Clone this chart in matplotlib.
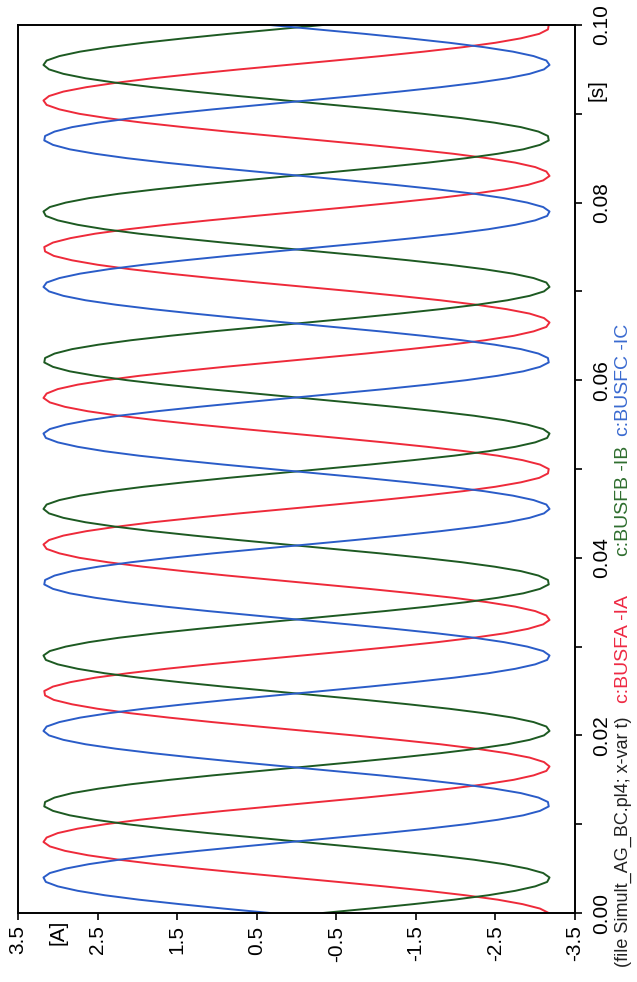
import numpy as np
import matplotlib
matplotlib.use("Agg")
import matplotlib.pyplot as plt

plt.rcParams['font.family'] = ['Liberation Sans', 'DejaVu Sans']

# time samples (s), 0.5 ms step
time_s = np.arange(201) * 0.0005

# currents [A]
ia = [-3.17, -3.06, -2.84, -2.53, -2.12, -1.64, -1.10, -0.52, 0.08, 0.67,
      1.24, 1.77, 2.23, 2.62, 2.91, 3.10, 3.18, 3.14, 3.00, 2.75,
      2.40, 1.97, 1.46, 0.91, 0.32, -0.28, -0.87, -1.42, -1.93, -2.37,
      -2.73, -2.98, -3.14, -3.18, -3.11, -2.93, -2.64, -2.26, -1.81, -1.28,
      -0.72, -0.12, 0.48, 1.06, 1.60, 2.09, 2.50, 2.82, 3.05, 3.16,
      3.17, 3.06, 2.84, 2.53, 2.12, 1.64, 1.10, 0.52, -0.08, -0.67,
      -1.24, -1.77, -2.23, -2.62, -2.91, -3.10, -3.18, -3.14, -3.00, -2.75,
      -2.40, -1.97, -1.46, -0.91, -0.32, 0.28, 0.87, 1.42, 1.93, 2.37,
      2.73, 2.98, 3.14, 3.18, 3.11, 2.93, 2.64, 2.26, 1.81, 1.28,
      0.72, 0.12, -0.48, -1.06, -1.60, -2.09, -2.50, -2.82, -3.05, -3.16,
      -3.17, -3.06, -2.84, -2.53, -2.12, -1.64, -1.10, -0.52, 0.08, 0.67,
      1.24, 1.77, 2.23, 2.62, 2.91, 3.10, 3.18, 3.14, 3.00, 2.75,
      2.40, 1.97, 1.46, 0.91, 0.32, -0.28, -0.87, -1.42, -1.93, -2.37,
      -2.73, -2.98, -3.14, -3.18, -3.11, -2.93, -2.64, -2.26, -1.81, -1.28,
      -0.72, -0.12, 0.48, 1.06, 1.60, 2.09, 2.50, 2.82, 3.05, 3.16,
      3.17, 3.06, 2.84, 2.53, 2.12, 1.64, 1.10, 0.52, -0.08, -0.67,
      -1.24, -1.77, -2.23, -2.62, -2.91, -3.10, -3.18, -3.14, -3.00, -2.75,
      -2.40, -1.97, -1.46, -0.91, -0.32, 0.28, 0.87, 1.42, 1.93, 2.37,
      2.73, 2.98, 3.14, 3.18, 3.11, 2.93, 2.64, 2.26, 1.81, 1.28,
      0.72, 0.12, -0.48, -1.06, -1.60, -2.09, -2.50, -2.82, -3.05, -3.16,
      -3.17]

ic = [0.33, 0.92, 1.47, 1.98, 2.41, 2.75, 3.00, 3.15, 3.18, 3.10,
      2.90, 2.61, 2.23, 1.76, 1.23, 0.66, 0.07, -0.53, -1.11, -1.65,
      -2.13, -2.53, -2.85, -3.06, -3.17, -3.16, -3.04, -2.82, -2.49, -2.08,
      -1.59, -1.05, -0.46, 0.13, 0.73, 1.29, 1.81, 2.27, 2.65, 2.93,
      3.11, 3.18, 3.14, 2.98, 2.72, 2.36, 1.92, 1.41, 0.86, 0.27,
      -0.33, -0.92, -1.47, -1.98, -2.41, -2.75, -3.00, -3.15, -3.18, -3.10,
      -2.90, -2.61, -2.23, -1.76, -1.23, -0.66, -0.07, 0.53, 1.11, 1.65,
      2.13, 2.53, 2.85, 3.06, 3.17, 3.16, 3.04, 2.82, 2.49, 2.08,
      1.59, 1.05, 0.46, -0.13, -0.73, -1.29, -1.81, -2.27, -2.65, -2.93,
      -3.11, -3.18, -3.14, -2.98, -2.72, -2.36, -1.92, -1.41, -0.86, -0.27,
      0.33, 0.92, 1.47, 1.98, 2.41, 2.75, 3.00, 3.15, 3.18, 3.10,
      2.90, 2.61, 2.23, 1.76, 1.23, 0.66, 0.07, -0.53, -1.11, -1.65,
      -2.13, -2.53, -2.85, -3.06, -3.17, -3.16, -3.04, -2.82, -2.49, -2.08,
      -1.59, -1.05, -0.46, 0.13, 0.73, 1.29, 1.81, 2.27, 2.65, 2.93,
      3.11, 3.18, 3.14, 2.98, 2.72, 2.36, 1.92, 1.41, 0.86, 0.27,
      -0.33, -0.92, -1.47, -1.98, -2.41, -2.75, -3.00, -3.15, -3.18, -3.10,
      -2.90, -2.61, -2.23, -1.76, -1.23, -0.66, -0.07, 0.53, 1.11, 1.65,
      2.13, 2.53, 2.85, 3.06, 3.17, 3.16, 3.04, 2.82, 2.49, 2.08,
      1.59, 1.05, 0.46, -0.13, -0.73, -1.29, -1.81, -2.27, -2.65, -2.93,
      -3.11, -3.18, -3.14, -2.98, -2.72, -2.36, -1.92, -1.41, -0.86, -0.27,
      0.33]

ib = [-0.33, -0.92, -1.47, -1.98, -2.41, -2.75, -3.00, -3.15, -3.18, -3.10,
      -2.90, -2.61, -2.23, -1.76, -1.23, -0.66, -0.07, 0.53, 1.11, 1.65,
      2.13, 2.53, 2.85, 3.06, 3.17, 3.16, 3.04, 2.82, 2.49, 2.08,
      1.59, 1.05, 0.46, -0.13, -0.73, -1.29, -1.81, -2.27, -2.65, -2.93,
      -3.11, -3.18, -3.14, -2.98, -2.72, -2.36, -1.92, -1.41, -0.86, -0.27,
      0.33, 0.92, 1.47, 1.98, 2.41, 2.75, 3.00, 3.15, 3.18, 3.10,
      2.90, 2.61, 2.23, 1.76, 1.23, 0.66, 0.07, -0.53, -1.11, -1.65,
      -2.13, -2.53, -2.85, -3.06, -3.17, -3.16, -3.04, -2.82, -2.49, -2.08,
      -1.59, -1.05, -0.46, 0.13, 0.73, 1.29, 1.81, 2.27, 2.65, 2.93,
      3.11, 3.18, 3.14, 2.98, 2.72, 2.36, 1.92, 1.41, 0.86, 0.27,
      -0.33, -0.92, -1.47, -1.98, -2.41, -2.75, -3.00, -3.15, -3.18, -3.10,
      -2.90, -2.61, -2.23, -1.76, -1.23, -0.66, -0.07, 0.53, 1.11, 1.65,
      2.13, 2.53, 2.85, 3.06, 3.17, 3.16, 3.04, 2.82, 2.49, 2.08,
      1.59, 1.05, 0.46, -0.13, -0.73, -1.29, -1.81, -2.27, -2.65, -2.93,
      -3.11, -3.18, -3.14, -2.98, -2.72, -2.36, -1.92, -1.41, -0.86, -0.27,
      0.33, 0.92, 1.47, 1.98, 2.41, 2.75, 3.00, 3.15, 3.18, 3.10,
      2.90, 2.61, 2.23, 1.76, 1.23, 0.66, 0.07, -0.53, -1.11, -1.65,
      -2.13, -2.53, -2.85, -3.06, -3.17, -3.16, -3.04, -2.82, -2.49, -2.08,
      -1.59, -1.05, -0.46, 0.13, 0.73, 1.29, 1.81, 2.27, 2.65, 2.93,
      3.11, 3.18, 3.14, 2.98, 2.72, 2.36, 1.92, 1.41, 0.86, 0.27,
      -0.33]

series_names = ["c:BUSFA -IA", "c:BUSFB -IB", "c:BUSFC -IC"]
line_colors = ["#ee2a3a", "#1d5a22", "#2a5cc8"]
text_colors = ["#ee2a44", "#2f6e2f", "#3a6ad0"]

current_ticks = [3.5, 2.5, 1.5, 0.5, -0.5, -1.5, -2.5, -3.5]
current_labels = ["3.5", "2.5", "1.5", "0.5", "-0.5", "-1.5", "-2.5", "-3.5"]
time_ticks = [0.00, 0.02, 0.04, 0.06, 0.08, 0.10]
time_labels = ["0.00", "0.02", "0.04", "0.06", "0.08", "0.10"]
time_minor = [0.01, 0.03, 0.05, 0.07, 0.09]

W, H = 637, 982
fig = plt.figure(figsize=(W / 100, H / 100), dpi=100)
L, R, T, B = 18, 575, 25, 913
ax = fig.add_axes([L / W, 1 - B / H, (R - L) / W, (B - T) / H])

for vals, col in zip([ia, ib, ic], line_colors):
    ax.plot(vals, time_s, color=col, lw=1.4, solid_joinstyle='round')

ax.set_xlim(3.5, -3.5)
ax.set_ylim(0.0, 0.10)

for s in ax.spines.values():
    s.set_linewidth(1.4)
    s.set_color('black')

ax.set_xticks(current_ticks)
ax.set_xticklabels(current_labels)
ax.set_yticks(time_ticks)
ax.set_yticklabels(time_labels)
ax.set_yticks(time_minor, minor=True)
ax.yaxis.tick_right()
ax.tick_params(axis='x', direction='out', length=5, width=1.2, pad=4,
               labelsize=15, labelrotation=90)
ax.tick_params(axis='y', which='both', direction='out', length=5, width=1.2,
               pad=7, labelsize=15, labelrotation=90, right=True, left=False)
for lab in ax.get_yticklabels():
    lab.set_va('center')
    lab.set_ha('left')

fig.text(58 / W, 1 - 920 / H, "[A]", rotation=90, ha='center', va='top',
         fontsize=15)
fig.text(587 / W, 1 - 90 / H, "[s]", rotation=90, ha='left', va='center',
         fontsize=15)

fig.text(623 / W, 1 - 967 / H, "(file Simult_AG_BC.pl4; x-var t)",
         rotation=90, ha='center', va='bottom', fontsize=13, color='#222222')
starts = [703, 556, 436]
for name, col, y0 in zip(series_names, text_colors, starts):
    fig.text(623 / W, 1 - y0 / H, name, rotation=90, ha='center',
             va='bottom', fontsize=14, color=col)

fig.savefig("out.png", dpi=100)
